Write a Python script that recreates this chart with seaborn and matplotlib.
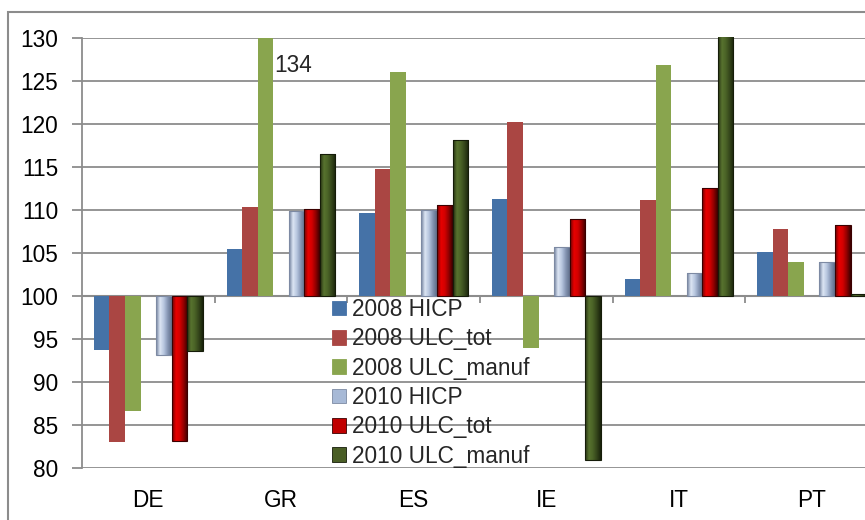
import numpy as np
import pandas as pd
import seaborn as sns
import matplotlib.pyplot as plt
from matplotlib.patches import Rectangle, Patch
from matplotlib.colors import LinearSegmentedColormap

countries = ['DE', 'GR', 'ES', 'IE', 'IT', 'PT']
series = ['2008 HICP', '2008 ULC_tot', '2008 ULC_manuf',
          '2010 HICP', '2010 ULC_tot', '2010 ULC_manuf']

hicp_2008 = [93.7, 105.5, 109.6, 111.3, 102.0, 105.1]
ulc_tot_2008 = [83.0, 110.3, 114.8, 120.2, 111.1, 107.8]
ulc_manuf_2008 = [86.6, 134.0, 126.0, 94.0, 126.8, 104.0]
hicp_2010 = [93.1, 109.9, 110.0, 105.7, 102.7, 103.9]
ulc_tot_2010 = [83.2, 110.1, 110.6, 108.9, 112.6, 108.2]
ulc_manuf_2010 = [93.6, 116.5, 118.1, 81.0, 132.0, 100.2]

base = 100
y_min, y_max = 80, 130
spacer = ' '

values = dict(zip(series, [hicp_2008, ulc_tot_2008, ulc_manuf_2008,
                           hicp_2010, ulc_tot_2010, ulc_manuf_2010]))
values[spacer] = [base] * len(countries)

rows = []
for name, vals in values.items():
    for c, v in zip(countries, vals):
        rows.append({'country': c, 'series': name, 'delta': v - base})
df = pd.DataFrame(rows)

hue_order = series[:3] + [spacer] + series[3:]
palette = {
    '2008 HICP': '#4572a7',
    '2008 ULC_tot': '#aa4643',
    '2008 ULC_manuf': '#89a54e',
    spacer: '#ffffff',
    '2010 HICP': '#a7b9d6',
    '2010 ULC_tot': '#c00000',
    '2010 ULC_manuf': '#4a5e26',
}
shades = {
    '2010 HICP': (['#6f7f9c', '#dde6f4', '#b6c5de', '#8494b2', '#5f6e8a'], '#7d8aa3'),
    '2010 ULC_tot': (['#6a0000', '#e80000', '#d20000', '#8e0000', '#380000'], '#3a0000'),
    '2010 ULC_manuf': (['#263212', '#58732f', '#4a6226', '#33441a', '#19220b'], '#151c09'),
}

grid_col = '#8c8c8c'
fs = 16.3

sns.set_style('white')
plt.rcParams['font.family'] = ['Liberation Sans', 'DejaVu Sans']

fig = plt.figure(figsize=(8.65, 5.2), dpi=100)
ax = fig.add_axes([82 / 865, 51.7 / 520, 796 / 865, 430.6 / 520])

sns.barplot(data=df, x='country', y='delta', hue='series', order=countries,
            hue_order=hue_order, palette=palette, width=0.82, gap=0,
            saturation=1, errorbar=None, legend=False, linewidth=0, ax=ax)

lo, hi = y_min - base, y_max - base
grad = np.linspace(0, 1, 64).reshape(1, -1)
for name, cont in zip(hue_order, ax.containers):
    for p in cont.patches:
        if name == spacer:
            p.set_visible(False)
            continue
        p.set_zorder(3)
        if name in shades:
            cols, edge = shades[name]
            cmap = LinearSegmentedColormap.from_list(name, cols)
            x0, w = p.get_x(), p.get_width()
            y0, h = p.get_y(), p.get_height()
            b, t = max(min(y0, y0 + h), lo), min(max(y0, y0 + h), hi)
            im = ax.imshow(grad, extent=[x0, x0 + w, b, t], cmap=cmap,
                           aspect='auto', zorder=2.9, interpolation='bilinear')
            im.set_clip_path(p)
            p.set_facecolor('none')
            p.set_edgecolor(edge)
            p.set_linewidth(0.8)
        if name == '2008 ULC_manuf' and 0.5 < p.get_x() < 1.5:
            ax.text(p.get_x() + p.get_width() + 0.01, 126.8 - base, '134',
                    ha='left', va='center', fontsize=fs, zorder=5)

ax.set_xlim(-0.5, len(countries) - 0.5)
ax.set_ylim(lo, hi)
ticks = np.arange(y_min, y_max + 1, 5)
ax.set_yticks(ticks - base)
ax.set_yticklabels([str(t) for t in ticks])

ax.yaxis.grid(True, color=grid_col, linewidth=1.3)
ax.set_axisbelow(True)
ax.axhline(0, color=grid_col, linewidth=1.5, zorder=1.5)
ax.vlines(np.arange(0.5, len(countries) - 0.5), 0, -0.8, color=grid_col, linewidth=1.3, zorder=1.5)

for s in ['top', 'right', 'bottom']:
    ax.spines[s].set_visible(False)
ax.spines['left'].set_color(grid_col)
ax.spines['left'].set_linewidth(1.3)

ax.tick_params(axis='y', left=True, length=7, width=1.3, color=grid_col, pad=10,
               labelsize=fs, labelcolor='black')
ax.tick_params(axis='x', bottom=False, length=0, pad=15, labelsize=fs, labelcolor='black')
ax.set_xlabel('')
ax.set_ylabel('')

handles = [Patch(facecolor=palette[s],
                 edgecolor=shades[s][1] if s in shades else palette[s], linewidth=0.6)
           for s in series]
fig.legend(handles, series, loc='upper left', bbox_to_anchor=(332 / 865, 1 - 298 / 520),
           frameon=False, fontsize=fs, borderpad=0, borderaxespad=0,
           handlelength=0.62, handleheight=0.62, handletextpad=0.25, labelspacing=0.28)

fig.patches.append(Rectangle((8 / 865, -0.1), 1.2, (520 - 12) / 520 + 0.1,
                             transform=fig.transFigure, fill=False,
                             edgecolor=grid_col, linewidth=1.5))

fig.savefig('out.png', dpi=100)
